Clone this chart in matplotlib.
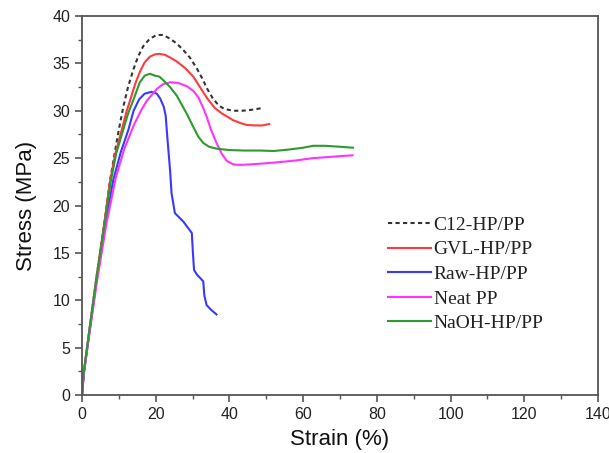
import matplotlib.pyplot as plt
from matplotlib.ticker import MultipleLocator

# strain (%) and stress (MPa)
c12_strain = [0, 0.5, 2, 4, 6.2, 7.6, 9, 10, 11.2, 12.5, 13.9, 15.2, 16.6, 18.4, 20.3, 22,
              23.9, 25.7, 27.5, 29.3, 31.1, 32.5, 34, 35.5, 37, 38.5, 41, 43.5, 46, 49.2]
c12_stress = [0, 2.4, 6.8, 12.6, 18.5, 22.6, 25.8, 28.0, 30.4, 32.5, 34.3, 35.7, 36.8, 37.6, 38.0, 38.0,
              37.6, 37.1, 36.4, 35.6, 34.5, 33.5, 32.3, 31.3, 30.6, 30.2, 30.0, 30.0, 30.1, 30.3]

gvl_strain = [0, 0.5, 2, 4, 6.2, 7.6, 9, 10.8, 12, 13.3, 14.5, 15.7, 17, 18.4, 19.8, 21, 22.5,
              24, 25.7, 28, 30.2, 32, 34, 36, 38, 39.3, 41, 43, 44.7, 47, 49, 50.8]
gvl_stress = [0, 2.4, 6.8, 12.6, 18.5, 22.5, 25.4, 28.0, 29.8, 31.4, 32.9, 34.1, 35.1, 35.7, 35.95, 36.0, 35.9,
              35.6, 35.2, 34.5, 33.6, 32.5, 31.3, 30.3, 29.7, 29.4, 29.0, 28.7, 28.5, 28.45, 28.45, 28.6]

raw_strain = [0, 0.5, 2, 4, 6.4, 8.5, 10.5, 12.6, 14, 15.5, 17, 18.9, 20.3, 21.2, 22.2, 22.7,
              23.2, 23.9, 24.3, 25.2, 27.5, 29.8, 30.1, 30.4, 31.2, 32.9, 33.2, 33.8, 35, 36.5]
raw_stress = [0, 2.3, 6.6, 12.2, 18.2, 22.7, 25.6, 28.0, 30.0, 31.2, 31.8, 32.0, 31.8, 31.3, 30.4, 29.5,
              27.0, 23.7, 21.3, 19.2, 18.3, 17.1, 15.0, 13.2, 12.7, 12.0, 10.5, 9.5, 9.0, 8.5]

neat_strain = [0, 0.5, 2, 4, 6.6, 9.2, 11.5, 14.2, 16, 17.5, 20.3, 22, 23.9, 26, 28.4, 30.2,
               31.6, 33, 33.8, 35, 36.5, 38, 39.3, 41, 42, 44, 48, 52.8, 58, 62.7, 68, 73.4]
neat_stress = [0, 2.2, 6.4, 11.8, 18.0, 23.0, 26.0, 28.6, 30.0, 31.0, 32.3, 32.8, 33.0, 32.95, 32.6, 32.1,
               31.4, 30.2, 29.4, 28.0, 26.6, 25.4, 24.7, 24.35, 24.3, 24.3, 24.4, 24.55, 24.75, 25.0, 25.15, 25.3]

naoh_strain = [0, 0.5, 2, 4, 6.3, 7.8, 9.3, 11.2, 12.5, 13.9, 15.7, 17, 18.4, 19.2, 19.8, 21, 22.1,
               23.9, 25.7, 27.4, 28.4, 30.2, 31.5, 32.9, 34.5, 36.5, 40, 44, 48.3, 52, 56, 60, 62.7, 66, 70, 73.5]
naoh_stress = [0, 2.4, 6.8, 12.5, 18.5, 22.5, 25.5, 28.0, 29.7, 31.1, 33.0, 33.7, 33.9, 33.8, 33.7, 33.6, 33.2,
               32.5, 31.6, 30.4, 29.7, 28.3, 27.3, 26.6, 26.2, 26.0, 25.85, 25.8, 25.8, 25.75, 25.9, 26.1, 26.3, 26.3, 26.2, 26.1]

labels = ['C12-HP/PP', 'GVL-HP/PP', 'Raw-HP/PP', 'Neat PP', 'NaOH-HP/PP']

fig = plt.figure(figsize=(6.09, 4.53), dpi=100)
ax = fig.add_axes([0.1346, 0.128, 0.8474, 0.8367])

ax.plot(c12_strain, c12_stress, color='#333333', linestyle=(0, (2, 1.6)), linewidth=1.5, label=labels[0])
ax.plot(gvl_strain, gvl_stress, color='#ff3b3b', linewidth=1.5, label=labels[1])
ax.plot(raw_strain, raw_stress, color='#3838ff', linewidth=1.5, label=labels[2])
ax.plot(neat_strain, neat_stress, color='#ff33ff', linewidth=1.5, label=labels[3])
ax.plot(naoh_strain, naoh_stress, color='#2e9a2e', linewidth=1.5, label=labels[4])

ax.set_xlim(0, 140)
ax.set_ylim(0, 40)
ax.xaxis.set_major_locator(MultipleLocator(20))
ax.xaxis.set_minor_locator(MultipleLocator(10))
ax.yaxis.set_major_locator(MultipleLocator(5))
ax.yaxis.set_minor_locator(MultipleLocator(2.5))

for side in ax.spines.values():
    side.set_color('#555555')
    side.set_linewidth(1.3)
ax.tick_params(which='major', direction='out', length=5, width=1.2, color='#555555',
               labelsize=11.5, labelcolor='#222222')
ax.tick_params(which='minor', direction='out', length=3, width=1.0, color='#555555')
for lab in ax.get_xticklabels() + ax.get_yticklabels():
    lab.set_family('Liberation Sans')

ax.set_xlabel('Strain (%)', fontsize=16, family='Liberation Sans', color='#111111', labelpad=5)
ax.set_ylabel('Stress (MPa)', fontsize=16, family='Liberation Sans', color='#111111', labelpad=11)

leg = ax.legend(loc='upper left', bbox_to_anchor=(0.593, 0.472), frameon=False,
                prop={'family': 'Liberation Serif', 'size': 14}, handlelength=2.2,
                handletextpad=0.15, labelspacing=0.36, borderpad=0, borderaxespad=0)
for t in leg.get_texts():
    t.set_color('#222222')

fig.savefig('out.png', dpi=100)
